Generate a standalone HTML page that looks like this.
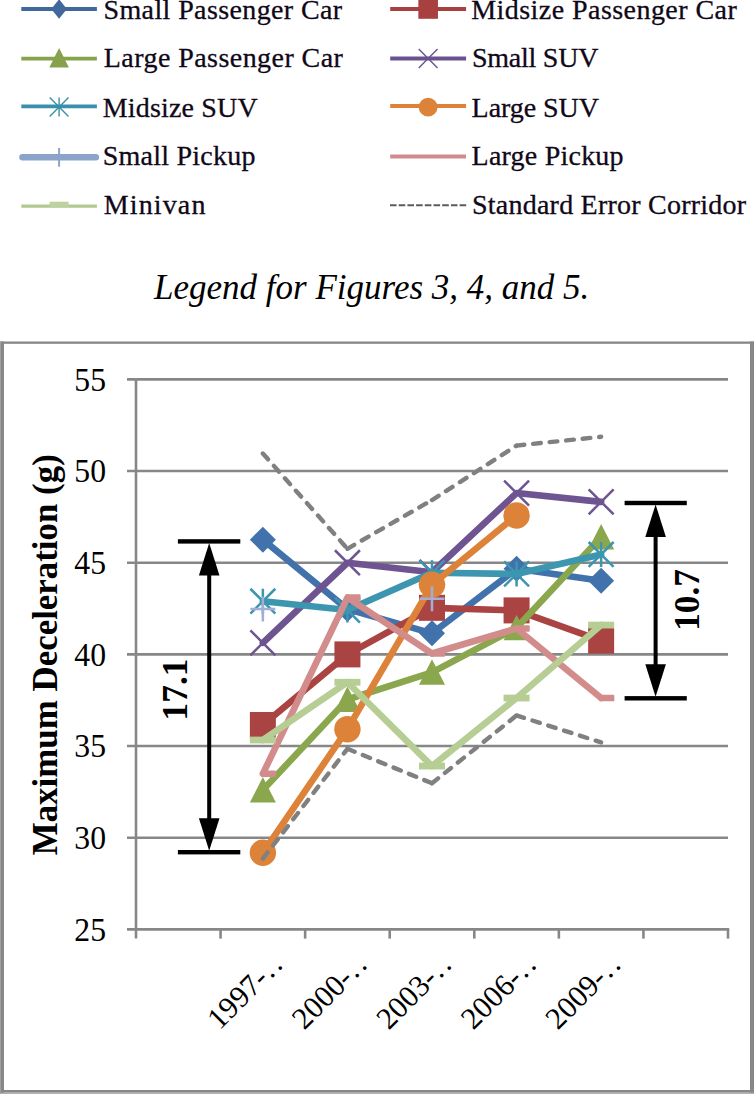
<!DOCTYPE html>
<html><head><meta charset="utf-8"><title>Chart</title>
<style>
html,body{margin:0;padding:0;background:#fff;}
body{width:754px;height:1094px;overflow:hidden;}
svg{display:block;}
text{font-family:"Liberation Serif",serif;}
.leg{font-size:28px;fill:#100818;stroke:#100818;stroke-width:0.3px;}
.cap{font-size:35px;font-style:italic;fill:#000;}
.tick{font-size:32.5px;fill:#000;}
.xt{font-size:30.5px;fill:#000;}
.ttl{font-size:34.9px;font-weight:bold;fill:#000;}
.eb{font-size:35.3px;font-weight:bold;fill:#000;}
</style></head>
<body>
<svg width="754" height="1094" viewBox="0 0 754 1094">
<rect width="754" height="1094" fill="#fff"/>
<line x1="21.3" y1="9.0" x2="96.9" y2="9.0" stroke="#40689B" stroke-width="3.8"/>
<path d="M51.300000000000004 9.0L59.1 -0.8000000000000007L66.9 9.0L59.1 18.8Z" fill="#40689B"/>
<text x="103.50" y="19.1" class="leg" textLength="238.65" lengthAdjust="spacing">Small Passenger Car</text>
<line x1="390.2" y1="9.0" x2="466.1" y2="9.0" stroke="#A8403F" stroke-width="3.8"/>
<rect x="418.34999999999997" y="-0.5999999999999996" width="19.6" height="19.4" fill="#A8403F"/>
<text x="471.20" y="19.1" class="leg" textLength="265.61" lengthAdjust="spacing">Midsize Passenger Car</text>
<line x1="21.3" y1="58.7" x2="96.9" y2="58.7" stroke="#87A24C" stroke-width="3.8"/>
<path d="M59.1 48.1L68.9 67.5L49.3 67.5Z" fill="#87A24C"/>
<text x="103.80" y="66.8" class="leg" textLength="239.09" lengthAdjust="spacing">Large Passenger Car</text>
<line x1="390.2" y1="58.5" x2="466.1" y2="58.5" stroke="#6A5290" stroke-width="3.8"/>
<path d="M418.74 49.09L437.56 67.91M437.56 49.09L418.74 67.91" stroke="#6A5290" stroke-width="1.4" fill="none"/>
<text x="471.90" y="66.8" class="leg" textLength="126.56" lengthAdjust="spacing">Small SUV</text>
<line x1="21.3" y1="106.4" x2="96.9" y2="106.4" stroke="#3A90AA" stroke-width="3.8"/>
<path d="M49.69 97.59L68.51 116.41M68.51 97.59L49.69 116.41M59.10 97.59L59.10 116.41" stroke="#3A90AA" stroke-width="1.4" fill="none"/>
<text x="102.70" y="116.5" class="leg" textLength="155.03" lengthAdjust="spacing">Midsize SUV</text>
<line x1="390.2" y1="106.0" x2="466.1" y2="106.0" stroke="#DD8339" stroke-width="3.8"/>
<circle cx="428.15" cy="107.2" r="9.4" fill="#DD8339"/>
<text x="471.60" y="116.5" class="leg" textLength="127.30" lengthAdjust="spacing">Large SUV</text>
<line x1="22.4" y1="157.3" x2="95.9" y2="157.3" stroke="#8CA4CA" stroke-width="6.4" stroke-linecap="round"/>
<path d="M49.69 157.30L68.51 157.30M59.10 147.89L59.10 166.71" stroke="#8CA4CA" stroke-width="2" fill="none"/>
<text x="102.80" y="164.5" class="leg" textLength="152.62" lengthAdjust="spacing">Small Pickup</text>
<line x1="390.2" y1="156.5" x2="466.1" y2="156.5" stroke="#D08C8C" stroke-width="3.8"/>
<text x="471.60" y="164.5" class="leg" textLength="151.96" lengthAdjust="spacing">Large Pickup</text>
<line x1="21.3" y1="206.1" x2="96.9" y2="206.1" stroke="#B0C990" stroke-width="3.4"/>
<rect x="49.6" y="201.7" width="19" height="5" fill="#BCD39F"/>
<text x="103.80" y="213.6" class="leg" textLength="101.59" lengthAdjust="spacing">Minivan</text>
<line x1="390" y1="205.2" x2="466.4" y2="205.2" stroke="#5c5c5c" stroke-width="2.1" stroke-dasharray="6.6 2.1"/>
<text x="472.00" y="213.6" class="leg" textLength="274.05" lengthAdjust="spacing">Standard Error Corridor</text>
<text x="371.7" y="299.2" class="cap" text-anchor="middle">Legend for Figures 3, 4, and 5.</text>
<rect x="0" y="341.5" width="754" height="2.3" fill="#878787"/>
<rect x="0" y="341.5" width="1" height="752.5" fill="#a0a0a0"/>
<rect x="1" y="341.5" width="3" height="752.5" fill="#878787"/>
<rect x="750" y="341.5" width="4" height="752.5" fill="#878787"/>
<rect x="1" y="1090" width="753" height="2.7" fill="#878787"/>
<rect x="1" y="1092.7" width="753" height="1.3" fill="#b2b2b2"/>
<line x1="127" y1="837.73" x2="728.0" y2="837.73" stroke="#878787" stroke-width="2.6"/>
<line x1="127" y1="746.07" x2="728.0" y2="746.07" stroke="#878787" stroke-width="2.6"/>
<line x1="127" y1="654.40" x2="728.0" y2="654.40" stroke="#878787" stroke-width="2.6"/>
<line x1="127" y1="562.73" x2="728.0" y2="562.73" stroke="#878787" stroke-width="2.6"/>
<line x1="127" y1="471.07" x2="728.0" y2="471.07" stroke="#878787" stroke-width="2.6"/>
<line x1="127" y1="379.40" x2="728.0" y2="379.40" stroke="#878787" stroke-width="2.6"/>
<line x1="127" y1="929.40" x2="729.2" y2="929.40" stroke="#878787" stroke-width="2.6"/>
<line x1="136.0" y1="378.10" x2="136.0" y2="938.6" stroke="#878787" stroke-width="2.6"/>
<line x1="220.57" y1="929.40" x2="220.57" y2="938.6" stroke="#878787" stroke-width="2.6"/>
<line x1="305.14" y1="929.40" x2="305.14" y2="938.6" stroke="#878787" stroke-width="2.6"/>
<line x1="389.71" y1="929.40" x2="389.71" y2="938.6" stroke="#878787" stroke-width="2.6"/>
<line x1="474.29" y1="929.40" x2="474.29" y2="938.6" stroke="#878787" stroke-width="2.6"/>
<line x1="558.86" y1="929.40" x2="558.86" y2="938.6" stroke="#878787" stroke-width="2.6"/>
<line x1="643.43" y1="929.40" x2="643.43" y2="938.6" stroke="#878787" stroke-width="2.6"/>
<line x1="728.00" y1="929.40" x2="728.00" y2="938.6" stroke="#878787" stroke-width="2.6"/>
<text transform="translate(106.0 940.50) scale(0.975 1.045)" class="tick" text-anchor="end">25</text>
<text transform="translate(106.0 848.83) scale(0.975 1.045)" class="tick" text-anchor="end">30</text>
<text transform="translate(106.0 757.17) scale(0.975 1.045)" class="tick" text-anchor="end">35</text>
<text transform="translate(106.0 665.50) scale(0.975 1.045)" class="tick" text-anchor="end">40</text>
<text transform="translate(106.0 573.83) scale(0.975 1.045)" class="tick" text-anchor="end">45</text>
<text transform="translate(106.0 482.17) scale(0.975 1.045)" class="tick" text-anchor="end">50</text>
<text transform="translate(106.0 390.50) scale(0.975 1.045)" class="tick" text-anchor="end">55</text>
<g transform="translate(283.86 966.40) rotate(-45)"><text x="0" y="0" class="xt" text-anchor="end">1997-<tspan dx="1.5">.</tspan><tspan dx="3">.</tspan></text></g>
<g transform="translate(368.43 966.40) rotate(-45)"><text x="0" y="0" class="xt" text-anchor="end">2000-<tspan dx="1.5">.</tspan><tspan dx="3">.</tspan></text></g>
<g transform="translate(453.00 966.40) rotate(-45)"><text x="0" y="0" class="xt" text-anchor="end">2003-<tspan dx="1.5">.</tspan><tspan dx="3">.</tspan></text></g>
<g transform="translate(537.57 966.40) rotate(-45)"><text x="0" y="0" class="xt" text-anchor="end">2006-<tspan dx="1.5">.</tspan><tspan dx="3">.</tspan></text></g>
<g transform="translate(622.14 966.40) rotate(-45)"><text x="0" y="0" class="xt" text-anchor="end">2009-<tspan dx="1.5">.</tspan><tspan dx="3">.</tspan></text></g>
<text transform="translate(57.4 855.3) rotate(-90)" class="ttl">Maximum Deceleration (g)</text>
<polyline points="262.86,539.63 347.43,609.12 432.00,633.32 516.57,568.78 601.14,580.70" fill="none" stroke="#4272AC" stroke-width="6.6" stroke-linejoin="round" stroke-linecap="round"/>
<path d="M249.86 539.63L262.86 526.63L275.86 539.63L262.86 552.63Z" fill="#4272AC"/>
<path d="M334.43 609.12L347.43 596.12L360.43 609.12L347.43 622.12Z" fill="#4272AC"/>
<path d="M419.00 633.32L432.00 620.32L445.00 633.32L432.00 646.32Z" fill="#4272AC"/>
<path d="M503.57 568.78L516.57 555.78L529.57 568.78L516.57 581.78Z" fill="#4272AC"/>
<path d="M588.14 580.70L601.14 567.70L614.14 580.70L601.14 593.70Z" fill="#4272AC"/>
<polyline points="262.86,724.98 347.43,654.40 432.00,607.83 516.57,610.40 601.14,640.65" fill="none" stroke="#AA4442" stroke-width="6.6" stroke-linejoin="round" stroke-linecap="round"/>
<rect x="249.86" y="711.98" width="26.00" height="26.00" fill="#AA4442"/>
<rect x="334.43" y="641.40" width="26.00" height="26.00" fill="#AA4442"/>
<rect x="419.00" y="594.83" width="26.00" height="26.00" fill="#AA4442"/>
<rect x="503.57" y="597.40" width="26.00" height="26.00" fill="#AA4442"/>
<rect x="588.14" y="627.65" width="26.00" height="26.00" fill="#AA4442"/>
<polyline points="262.86,790.07 347.43,699.50 432.00,672.37 516.57,627.82 601.14,537.07" fill="none" stroke="#8AA74D" stroke-width="6.6" stroke-linejoin="round" stroke-linecap="round"/>
<path d="M262.86 777.07L275.86 802.55L249.86 802.55Z" fill="#8AA74D"/>
<path d="M347.43 686.50L360.43 711.98L334.43 711.98Z" fill="#8AA74D"/>
<path d="M432.00 659.37L445.00 684.85L419.00 684.85Z" fill="#8AA74D"/>
<path d="M516.57 614.82L529.57 640.30L503.57 640.30Z" fill="#8AA74D"/>
<path d="M601.14 524.07L614.14 549.55L588.14 549.55Z" fill="#8AA74D"/>
<polyline points="262.86,642.85 347.43,562.73 432.00,572.27 516.57,493.07 601.14,501.87" fill="none" stroke="#6E5591" stroke-width="6.6" stroke-linejoin="round" stroke-linecap="round"/>
<path d="M250.38 630.37L275.34 655.33M275.34 630.37L250.38 655.33" stroke="#6E5591" stroke-width="2.5" fill="none"/>
<path d="M334.95 550.25L359.91 575.21M359.91 550.25L334.95 575.21" stroke="#6E5591" stroke-width="2.5" fill="none"/>
<path d="M419.52 559.79L444.48 584.75M444.48 559.79L419.52 584.75" stroke="#6E5591" stroke-width="2.5" fill="none"/>
<path d="M504.09 480.59L529.05 505.55M529.05 480.59L504.09 505.55" stroke="#6E5591" stroke-width="2.5" fill="none"/>
<path d="M588.66 489.39L613.62 514.35M613.62 489.39L588.66 514.35" stroke="#6E5591" stroke-width="2.5" fill="none"/>
<polyline points="262.86,601.23 347.43,610.03 432.00,572.82 516.57,573.92 601.14,554.48" fill="none" stroke="#3C96B0" stroke-width="6.6" stroke-linejoin="round" stroke-linecap="round"/>
<path d="M250.38 588.75L275.34 613.71M275.34 588.75L250.38 613.71M262.86 588.75L262.86 613.71" stroke="#3C96B0" stroke-width="2.5" fill="none"/>
<path d="M334.95 597.55L359.91 622.51M359.91 597.55L334.95 622.51M347.43 597.55L347.43 622.51" stroke="#3C96B0" stroke-width="2.5" fill="none"/>
<path d="M419.52 560.34L444.48 585.30M444.48 560.34L419.52 585.30M432.00 560.34L432.00 585.30" stroke="#3C96B0" stroke-width="2.5" fill="none"/>
<path d="M504.09 561.44L529.05 586.40M529.05 561.44L504.09 586.40M516.57 561.44L516.57 586.40" stroke="#3C96B0" stroke-width="2.5" fill="none"/>
<path d="M588.66 542.00L613.62 566.96M613.62 542.00L588.66 566.96M601.14 542.00L601.14 566.96" stroke="#3C96B0" stroke-width="2.5" fill="none"/>
<polyline points="262.86,852.77 347.43,729.20 432.00,584.73 516.57,515.43" fill="none" stroke="#DD8339" stroke-width="6.6" stroke-linejoin="round" stroke-linecap="round"/>
<circle cx="262.86" cy="852.77" r="13.20" fill="#DD8339"/>
<circle cx="347.43" cy="729.20" r="13.20" fill="#DD8339"/>
<circle cx="432.00" cy="584.73" r="13.20" fill="#DD8339"/>
<circle cx="516.57" cy="515.43" r="13.20" fill="#DD8339"/>
<path d="M250.38 609.12L275.34 609.12M262.86 596.64L262.86 621.60" stroke="#A2AED6" stroke-width="2.5" fill="none"/>
<path d="M419.52 598.67L444.48 598.67M432.00 586.19L432.00 611.15" stroke="#A2AED6" stroke-width="2.5" fill="none"/>
<polyline points="262.86,773.75 347.43,597.57 432.00,653.48 516.57,628.55 601.14,698.03" fill="none" stroke="#D28C8C" stroke-width="6.6" stroke-linejoin="round" stroke-linecap="round"/>
<rect x="260.86" y="770.45" width="15.20" height="6.6" rx="1.2" fill="#D28C8C"/>
<rect x="345.43" y="594.27" width="15.20" height="6.6" rx="1.2" fill="#D28C8C"/>
<rect x="430.00" y="650.18" width="15.20" height="6.6" rx="1.2" fill="#D28C8C"/>
<rect x="514.57" y="625.25" width="15.20" height="6.6" rx="1.2" fill="#D28C8C"/>
<rect x="599.14" y="694.73" width="15.20" height="6.6" rx="1.2" fill="#D28C8C"/>
<polyline points="262.86,740.02 347.43,682.27 432.00,766.05 516.57,698.03 601.14,625.07" fill="none" stroke="#B6CD94" stroke-width="6.6" stroke-linejoin="round" stroke-linecap="round"/>
<rect x="249.86" y="736.62" width="26.00" height="6.80" fill="#B6CD94"/>
<rect x="334.43" y="678.87" width="26.00" height="6.80" fill="#B6CD94"/>
<rect x="419.00" y="762.65" width="26.00" height="6.80" fill="#B6CD94"/>
<rect x="503.57" y="694.63" width="26.00" height="6.80" fill="#B6CD94"/>
<rect x="588.14" y="621.67" width="26.00" height="6.80" fill="#B6CD94"/>
<line x1="262.86" y1="453.47" x2="347.43" y2="548.80" stroke="#808080" stroke-width="4.4" stroke-dasharray="7.8 8.8" stroke-linecap="round"/>
<line x1="347.43" y1="548.80" x2="432.00" y2="500.03" stroke="#808080" stroke-width="4.4" stroke-dasharray="7.8 8.8" stroke-linecap="round"/>
<line x1="432.00" y1="500.03" x2="516.57" y2="445.58" stroke="#808080" stroke-width="4.4" stroke-dasharray="7.8 8.8" stroke-linecap="round"/>
<line x1="516.57" y1="445.58" x2="601.14" y2="436.78" stroke="#808080" stroke-width="4.4" stroke-dasharray="7.8 8.8" stroke-linecap="round"/>
<line x1="262.86" y1="858.63" x2="347.43" y2="748.82" stroke="#808080" stroke-width="4.4" stroke-dasharray="7.8 8.8" stroke-linecap="round"/>
<line x1="347.43" y1="748.82" x2="432.00" y2="783.28" stroke="#808080" stroke-width="4.4" stroke-dasharray="7.8 8.8" stroke-linecap="round"/>
<line x1="432.00" y1="783.28" x2="516.57" y2="715.45" stroke="#808080" stroke-width="4.4" stroke-dasharray="7.8 8.8" stroke-linecap="round"/>
<line x1="516.57" y1="715.45" x2="601.14" y2="742.40" stroke="#808080" stroke-width="4.4" stroke-dasharray="7.8 8.8" stroke-linecap="round"/>
<rect x="177.9" y="539.1999999999999" width="62.400000000000006" height="4.4" fill="#000"/>
<rect x="177.9" y="850.0" width="62.400000000000006" height="4.4" fill="#000"/>
<rect x="207.2" y="561.4" width="4" height="270.80000000000007" fill="#000"/>
<path d="M209.2 542.9L219.5 575.4L198.89999999999998 575.4Z" fill="#000"/>
<path d="M209.2 850.7L219.5 818.2L198.89999999999998 818.2Z" fill="#000"/>
<text transform="translate(187.0 689.5) rotate(-90)" class="eb" text-anchor="middle">17.1</text>
<rect x="624.6" y="500.8" width="62.19999999999993" height="4.4" fill="#000"/>
<rect x="624.6" y="696.0999999999999" width="62.19999999999993" height="4.4" fill="#000"/>
<rect x="653.6" y="523.0" width="4" height="155.29999999999995" fill="#000"/>
<path d="M655.6 504.5L665.9 537.0L645.3000000000001 537.0Z" fill="#000"/>
<path d="M655.6 696.8L665.9 664.3L645.3000000000001 664.3Z" fill="#000"/>
<text transform="translate(698.8 599.9) rotate(-90)" class="eb" text-anchor="middle">10.7</text>
</svg>
</body></html>
